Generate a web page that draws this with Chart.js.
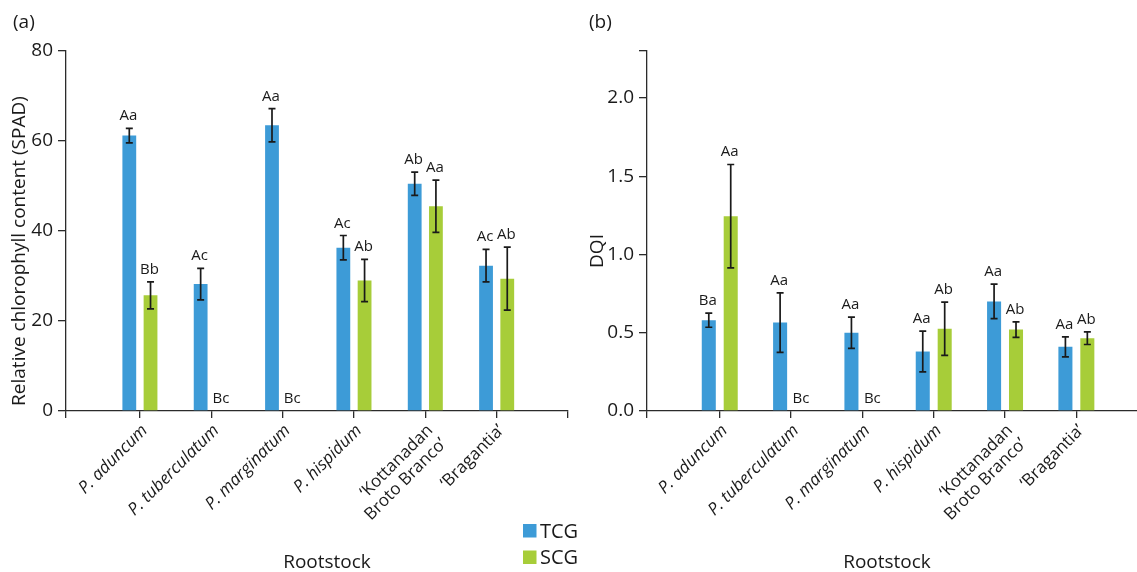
<!DOCTYPE html>
<html>
<head>
<meta charset="utf-8">
<script src="https://cdn.jsdelivr.net/npm/chart.js@4.4.1/dist/chart.umd.min.js"></script>
<style>
  html, body { margin: 0; padding: 0; background: #fff; }
  #wrap { position: relative; width: 1137px; height: 572px; overflow: hidden; background: #fff; }
  #wrap canvas { position: absolute; top: 0; }
  #chartA { left: 0; }
  #chartB { left: 577px; }
</style>
</head>
<body>
<div id="wrap">
  <canvas id="chartA" width="600" height="572"></canvas>
  <canvas id="chartB" width="560" height="572"></canvas>
</div>
<script>
// Rootstocks (x categories); the two cultivars are set upright, species in italics
const rootstocks = ['P. aduncum', 'P. tuberculatum', 'P. marginatum', 'P. hispidum',
                    ['\u2018Kottanadan', 'Broto Branco\u2019'], '\u2018Bragantia\u2019'];
const italicName = [true, true, true, true, false, false];

const seriesNames = ['TCG', 'SCG'];
const seriesColors = ['#3d9bd7', '#a7cd39'];

// (a) Relative chlorophyll content (SPAD), mean and error
const spadTCG      = [61.2, 28.2, 63.5, 36.3, 50.5, 32.3];
const spadTCGErr   = [1.6, 3.5, 3.7, 2.7, 2.6, 3.6];
const spadSCG      = [25.7, 0, 0, 29.0, 45.5, 29.4];
const spadSCGErr   = [3.0, 0, 0, 4.7, 5.8, 7.0];
const spadTCGGroup = ['Aa', 'Ac', 'Aa', 'Ac', 'Ab', 'Ac'];
const spadSCGGroup = ['Bb', 'Bc', 'Bc', 'Ab', 'Aa', 'Ab'];
const spadTicks    = [0, 20, 40, 60, 80];

// (b) DQI, mean and error
const dqiTCG      = [0.58, 0.565, 0.50, 0.38, 0.70, 0.41];
const dqiTCGErr   = [0.045, 0.19, 0.10, 0.13, 0.11, 0.064];
const dqiSCG      = [1.245, 0, 0, 0.525, 0.52, 0.465];
const dqiSCGErr   = [0.33, 0, 0, 0.17, 0.05, 0.04];
const dqiTCGGroup = ['Ba', 'Aa', 'Aa', 'Aa', 'Aa', 'Aa'];
const dqiSCGGroup = ['Aa', 'Bc', 'Bc', 'Ab', 'Ab', 'Ab'];
const dqiTicks    = [0, 0.5, 1.0, 1.5, 2.0];
const dqiAxisTop  = 2.3;

const FONT = '"Open Sans", "Noto Sans", sans-serif';
const INK = '#1a1a1a';
const AXIS = '#2b2b2b';

// error bars with caps, plus the significance letters above each bar
const errorBars = {
  id: 'errorBars',
  afterDatasetsDraw(chart) {
    const { ctx } = chart;
    const yScale = chart.scales.y;
    ctx.save();
    chart.data.datasets.forEach((ds, di) => {
      const meta = chart.getDatasetMeta(di);
      meta.data.forEach((bar, i) => {
        const v = ds.data[i].y;
        const e = ds.errors[i];
        const top = yScale.getPixelForValue(v + e);
        const bot = yScale.getPixelForValue(v - e);
        if (e > 0) {
          ctx.strokeStyle = INK;
          ctx.lineWidth = 1.7;
          ctx.beginPath();
          ctx.moveTo(bar.x, top); ctx.lineTo(bar.x, bot);
          ctx.moveTo(bar.x - 3.5, top); ctx.lineTo(bar.x + 3.5, top);
          ctx.moveTo(bar.x - 3.5, bot); ctx.lineTo(bar.x + 3.5, bot);
          ctx.stroke();
        }
        ctx.fillStyle = INK;
        ctx.font = '15px ' + FONT;
        ctx.textAlign = 'center';
        ctx.textBaseline = 'alphabetic';
        ctx.fillText(ds.groups[i], bar.x - 1, top - 8);
      });
    });
    ctx.restore();
  }
};

// panel tag, axis titles and (optionally) the series key
const panelText = {
  id: 'panelText',
  afterDraw(chart, args, o) {
    const { ctx } = chart;
    ctx.save();
    ctx.fillStyle = INK;
    ctx.font = '19px ' + FONT;
    ctx.textBaseline = 'alphabetic';
    ctx.textAlign = 'left';
    ctx.fillText(o.tag, o.tagX, o.tagY);
    ctx.textAlign = 'center';
    ctx.fillText(o.xTitle, o.xTitleX, o.xTitleY);
    ctx.save();
    ctx.translate(o.yTitleX, o.yTitleY);
    ctx.rotate(-Math.PI / 2);
    ctx.fillText(o.yTitle, 0, 0);
    ctx.restore();
    if (o.legend) {
      ctx.font = '20px ' + FONT;
      ctx.textAlign = 'left';
      chart.data.datasets.forEach((ds, i) => {
        const y = o.legendY + i * o.legendStep;
        ctx.fillStyle = ds.backgroundColor;
        ctx.fillRect(o.legendX, y, 13.5, 13.5);
        ctx.fillStyle = INK;
        ctx.fillText(ds.label, o.legendX + 17, y + 13.5);
      });
    }
    ctx.restore();
  }
};

function makeDatasets(tcg, tcgErr, tcgGroup, scg, scgErr, scgGroup) {
  const pts = arr => arr.map((v, i) => ({ x: i + 1, y: v }));
  return [
    { label: seriesNames[0], data: pts(tcg), errors: tcgErr, groups: tcgGroup,
      backgroundColor: seriesColors[0], borderWidth: 0 },
    { label: seriesNames[1], data: pts(scg), errors: scgErr, groups: scgGroup,
      backgroundColor: seriesColors[1], borderWidth: 0 }
  ];
}

function xAxis(min, max, endTick) {
  return {
    type: 'linear', min: min, max: max, offset: false,
    afterBuildTicks: s => {
      const t = [{ value: min }].concat(rootstocks.map((_, i) => ({ value: i + 1 })));
      if (endTick) t.push({ value: max });
      s.ticks = t;
    },
    ticks: {
      autoSkip: false, minRotation: 45, maxRotation: 45, padding: 3, labelOffset: 5, color: INK,
      callback: v => (Number.isInteger(v) && v >= 1 && v <= rootstocks.length) ? rootstocks[v - 1] : '',
      font: c => {
        const k = c.tick ? Math.round(c.tick.value) - 1 : -1;
        return { family: FONT, size: 17, style: italicName[k] ? 'italic' : 'normal', lineHeight: 1.12 };
      }
    },
    grid: { display: true, drawOnChartArea: false, drawTicks: true, tickLength: 7,
            color: AXIS, lineWidth: 1.3, offset: false },
    border: { display: true, color: AXIS, width: 1.3 },
    afterFit: s => { s.height = 161; s.paddingLeft = 0; s.paddingRight = 0; }
  };
}

function yAxis(max, ticks, width, fmt) {
  return {
    min: 0, max: max,
    afterBuildTicks: s => {
      const t = ticks.map(v => ({ value: v }));
      if (ticks[ticks.length - 1] < max) t.push({ value: max });
      s.ticks = t;
    },
    ticks: { color: INK, padding: 5, font: { family: FONT, size: 19 },
             callback: v => (ticks.indexOf(v) >= 0 ? fmt(v) : '') },
    grid: { display: true, drawOnChartArea: false, drawTicks: true, tickLength: 8,
            color: AXIS, lineWidth: 1.3 },
    border: { display: true, color: AXIS, width: 1.3 },
    afterFit: s => { s.width = width; }
  };
}

function baseOptions(padRight, x, y, text, cp, bp) {
  return {
    responsive: false,
    animation: false,
    events: [],
    layout: { padding: { top: 51, right: padRight, bottom: 0, left: 0 } },
    datasets: { bar: { categoryPercentage: cp, barPercentage: bp } },
    scales: { x: x, y: y },
    plugins: { legend: { display: false }, title: { display: false }, tooltip: { enabled: false },
               panelText: text }
  };
}

new Chart(document.getElementById('chartA'), {
  type: 'bar',
  data: { datasets: makeDatasets(spadTCG, spadTCGErr, spadTCGGroup, spadSCG, spadSCGErr, spadSCGGroup) },
  options: baseOptions(32, xAxis(-0.036, 7.0, true), yAxis(80, spadTicks, 66, v => String(v)),
    { tag: '(a)', tagX: 13, tagY: 28,
      xTitle: 'Rootstock', xTitleX: 327, xTitleY: 568,
      yTitle: 'Relative chlorophyll content (SPAD)', yTitleX: 25, yTitleY: 251,
      legend: true, legendX: 523, legendY: 524, legendStep: 26.5 }, 0.595, 0.65),
  plugins: [errorBars, panelText]
});

new Chart(document.getElementById('chartB'), {
  type: 'bar',
  data: { datasets: makeDatasets(dqiTCG, dqiTCGErr, dqiTCGGroup, dqiSCG, dqiSCGErr, dqiSCGGroup) },
  options: baseOptions(0, xAxis(-0.02, 6.85, false), yAxis(dqiAxisTop, dqiTicks, 70, v => v.toFixed(1)),
    { tag: '(b)', tagX: 12, tagY: 28,
      xTitle: 'Rootstock', xTitleX: 310, xTitleY: 568,
      yTitle: 'DQI', yTitleX: 26, yTitleY: 251,
      legend: false }, 0.615, 0.64),
  plugins: [errorBars, panelText]
});
</script>
</body>
</html>
